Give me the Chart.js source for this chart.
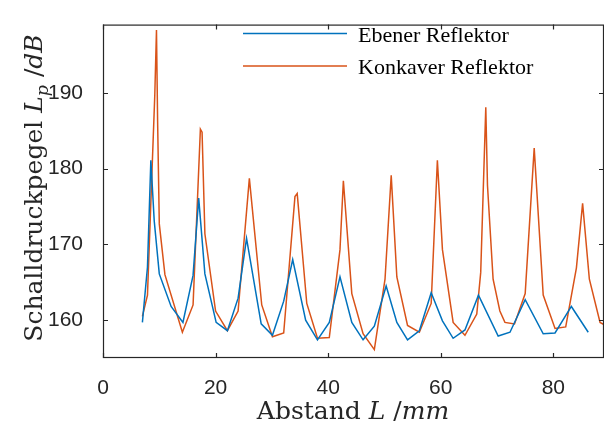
<!DOCTYPE html>
<html lang="de">
  <head>
    <meta charset="UTF-8" />
    <title>Schalldruckpegel</title>
    <script src="https://cdn.jsdelivr.net/npm/chart.js"></script>
    <style>
      body { margin: 0; background: #fff; }
      #wrap { width: 604px; height: 430px; position: relative; }
    </style>
  </head>
  <body>
    <div id="wrap"><canvas id="my-chart"></canvas></div>

    <script>
      // data
      const ebenerX = [7.0, 7.9, 8.5, 9.1, 10.0, 12.1, 14.2, 16.0, 17.0, 18.1, 20.1, 22.1, 24.0, 25.5, 28.1, 30.1, 32.1, 33.7, 36.0, 38.1, 40.2, 42.1, 44.2, 46.2, 48.2, 50.3, 52.2, 54.1, 56.2, 58.3, 60.3, 62.2, 64.3, 66.7, 70.2, 72.3, 75.0, 78.2, 80.3, 83.2, 86.2];
      const ebenerY = [159.7, 167.0, 181.1, 173.1, 166.1, 161.8, 159.7, 165.9, 176.1, 166.1, 159.7, 158.6, 162.9, 170.8, 159.5, 158.0, 162.5, 168.0, 160.0, 157.4, 159.7, 165.7, 159.7, 157.4, 159.2, 164.5, 159.7, 157.4, 158.6, 163.6, 159.9, 157.6, 158.7, 163.3, 157.9, 158.4, 162.7, 158.2, 158.3, 161.8, 158.4];

      const konkaverX = [7.0, 7.9, 9.2, 9.5, 9.7, 10.0, 11.0, 14.1, 16.0, 17.3, 17.6, 18.1, 20.0, 22.1, 24.0, 26.0, 28.2, 30.1, 32.1, 34.1, 34.5, 36.2, 38.1, 40.2, 42.1, 42.7, 44.2, 46.2, 48.2, 50.1, 51.2, 52.2, 54.1, 56.2, 58.3, 59.4, 60.3, 62.2, 64.3, 66.4, 67.1, 68.0, 68.3, 69.3, 70.5, 71.4, 73.1, 75.0, 76.6, 78.2, 80.3, 82.2, 84.1, 85.2, 86.4, 88.3, 89.5];
      const konkaverY = [160.5, 163.3, 189.7, 198.3, 186.3, 172.7, 166.0, 158.4, 162.0, 185.2, 184.8, 171.4, 161.2, 158.6, 161.2, 178.7, 162.0, 157.8, 158.3, 176.3, 176.7, 162.2, 157.6, 157.7, 169.3, 178.4, 163.5, 158.2, 156.1, 165.4, 179.1, 165.7, 159.3, 158.4, 162.2, 181.1, 169.3, 159.7, 158.0, 160.8, 166.3, 188.1, 177.8, 165.4, 161.2, 159.7, 159.5, 163.5, 182.7, 163.3, 158.9, 159.1, 166.9, 175.4, 165.4, 159.7, 159.2];

      const seriesNames = ["Ebener Reflektor", "Konkaver Reflektor"];
      const xTicks = [0, 20, 40, 60, 80];
      const yTicks = [160, 170, 180, 190];

      const BLUE = "#0072BD";
      const ORANGE = "#D95319";
      const AXIS = "#262626";

      function toPoints(xs, ys) {
        return xs.map((x, i) => ({ x: x, y: ys[i] }));
      }

      // draws a row of text pieces, some italic / subscript
      function drawPieces(ctx, pieces, size) {
        let total = 0;
        pieces.forEach((p) => {
          ctx.font = (p.italic ? "italic " : "") + (p.sub ? size * 0.7 : size) + "px 'DejaVu Serif'";
          p.w = ctx.measureText(p.t).width;
          total += p.w;
        });
        let x = -total / 2;
        pieces.forEach((p) => {
          ctx.font = (p.italic ? "italic " : "") + (p.sub ? size * 0.7 : size) + "px 'DejaVu Serif'";
          ctx.fillText(p.t, x, p.sub ? size * 0.25 : 0);
          x += p.w;
        });
      }

      const axesPlugin = {
        id: "matlabAxes",
        afterDraw(chart) {
          const ctx = chart.ctx;
          const a = chart.chartArea;
          const xs = chart.scales.x;
          const ys = chart.scales.y;
          ctx.save();
          // box
          ctx.strokeStyle = AXIS;
          ctx.lineWidth = 1.2;
          ctx.strokeRect(a.left + 0.5, a.top + 0.5, a.right - a.left - 1, a.bottom - a.top - 1);
          // inward ticks
          ctx.beginPath();
          xTicks.forEach((v) => {
            const px = Math.round(xs.getPixelForValue(v)) + 0.5;
            ctx.moveTo(px, a.bottom); ctx.lineTo(px, a.bottom - 5);
            ctx.moveTo(px, a.top); ctx.lineTo(px, a.top + 5);
          });
          yTicks.forEach((v) => {
            const py = Math.round(ys.getPixelForValue(v)) + 0.5;
            ctx.moveTo(a.left, py); ctx.lineTo(a.left + 5, py);
            ctx.moveTo(a.right, py); ctx.lineTo(a.right - 5, py);
          });
          ctx.stroke();

          // legend
          const colors = [BLUE, ORANGE];
          const rowsY = [33.5, 66];
          ctx.lineWidth = 1.5;
          seriesNames.forEach((name, i) => {
            ctx.strokeStyle = colors[i];
            ctx.beginPath();
            ctx.moveTo(243, rowsY[i]);
            ctx.lineTo(347, rowsY[i]);
            ctx.stroke();
            ctx.fillStyle = "#000";
            ctx.font = "22px 'Liberation Serif'";
            ctx.textBaseline = "alphabetic";
            ctx.textAlign = "left";
            ctx.fillText(name, 358, rowsY[i] + 8);
          });

          // axis titles
          ctx.fillStyle = AXIS;
          ctx.textAlign = "left";
          ctx.textBaseline = "alphabetic";
          ctx.save();
          ctx.translate(353, 419);
          drawPieces(ctx, [
            { t: "Abstand " }, { t: "L", italic: true }, { t: " /" }, { t: "mm", italic: true },
          ], 25);
          ctx.restore();

          ctx.save();
          ctx.translate(42, 188);
          ctx.rotate(-Math.PI / 2);
          drawPieces(ctx, [
            { t: "Schalldruckpegel " }, { t: "L", italic: true }, { t: "p", italic: true, sub: true },
            { t: " /" }, { t: "dB", italic: true },
          ], 25);
          ctx.restore();
          ctx.restore();
        },
      };

      const ctx = document.getElementById("my-chart").getContext("2d");
      const myChart = new Chart(ctx, {
        type: "scatter",
        data: {
          datasets: [
            {
              label: seriesNames[0],
              data: toPoints(ebenerX, ebenerY),
              showLine: true,
              borderColor: BLUE,
              backgroundColor: BLUE,
              borderWidth: 1.5,
              pointRadius: 0,
              tension: 0,
            },
            {
              label: seriesNames[1],
              data: toPoints(konkaverX, konkaverY),
              showLine: true,
              borderColor: ORANGE,
              backgroundColor: ORANGE,
              borderWidth: 1.5,
              pointRadius: 0,
              tension: 0,
            },
          ],
        },
        options: {
          responsive: true,
          maintainAspectRatio: false,
          animation: false,
          layout: { padding: { top: 13, right: 0, left: 0, bottom: 0 } },
          plugins: {
            legend: { display: false },
            tooltip: { enabled: false },
          },
          scales: {
            x: {
              type: "linear",
              min: 0,
              max: 89,
              grid: { display: false },
              border: { display: false },
              afterBuildTicks: (s) => { s.ticks = xTicks.map((v) => ({ value: v })); },
              afterFit: (s) => { s.height = 72; },
              ticks: {
                padding: 10,
                color: AXIS,
                font: { family: "'Liberation Sans', Arial", size: 21 },
                maxRotation: 0,
              },
            },
            y: {
              type: "linear",
              min: 155,
              max: 199,
              grid: { display: false },
              border: { display: false },
              afterBuildTicks: (s) => { s.ticks = yTicks.map((v) => ({ value: v })); },
              afterFit: (s) => { s.width = 103; },
              ticks: {
                padding: 12,
                color: AXIS,
                font: { family: "'Liberation Sans', Arial", size: 21 },
              },
            },
          },
        },
        plugins: [axesPlugin],
      });
    </script>
  </body>
</html>
